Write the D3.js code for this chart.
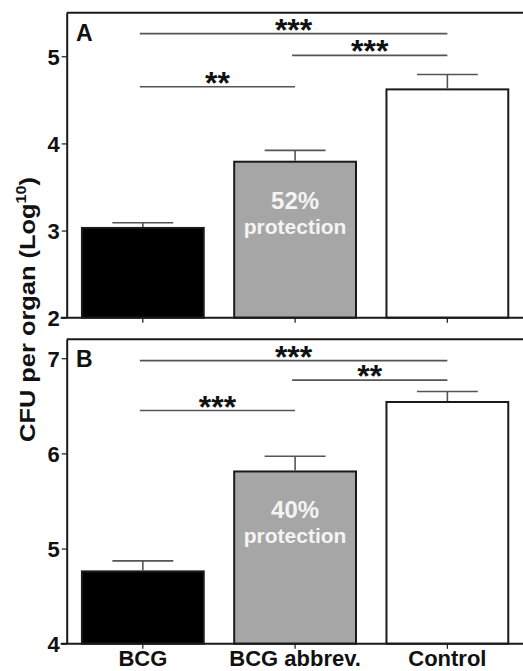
<!DOCTYPE html>
<html>
<head>
<meta charset="utf-8">
<script src="https://cdn.jsdelivr.net/npm/d3@7"></script>
<style>
  body { margin: 0; background: #fff; }
  svg { display: block; font-family: "Liberation Sans", Arial, sans-serif; font-weight: bold; }
</style>
</head>
<body>
<svg id="svg1" width="523" height="671"></svg>
<script>
// data
var groups = ['BCG', 'BCG abbrev.', 'Control'];
var fills = ['#000000', '#a6a6a6', '#ffffff'];

var meansA = [3.03, 3.79, 4.62];
var semA = [0.06, 0.13, 0.17];
var ticksA = [2, 3, 4, 5];
var protectA = '52%';

var meansB = [4.76, 5.81, 6.54];
var semB = [0.11, 0.16, 0.11];
var ticksB = [4, 5, 6, 7];
var protectB = '40%';

// significance brackets: [from group, to group, height in data units, stars]
var sigA = [[0, 2, 5.26, '***'], [1, 2, 5.01, '***'], [0, 1, 4.65, '**']];
var sigB = [[0, 2, 6.975, '***'], [1, 2, 6.77, '**'], [0, 1, 6.45, '***']];

var width = 523;
var svg = d3.select('svg');

var x = d3.scaleBand()
    .domain(groups)
    .range([66.7, 523.5])
    .paddingInner(0.2)
    .paddingOuter(0.1);

function panel(label, means, sem, ticks, sig, protect, domain, yr, showLabels) {
    var g = svg.append('g');
    var y = d3.scaleLinear().domain(domain).range(yr);
    var x0 = x.range()[0];

    // top frame line
    g.append('line')
        .attr('x1', x0).attr('x2', width)
        .attr('y1', yr[1]).attr('y2', yr[1])
        .attr('stroke', '#1a1a1a').attr('stroke-width', 2);

    // bars
    g.selectAll('rect.bar')
        .data(means)
        .enter()
        .append('rect')
        .attr('class', 'bar')
        .attr('x', function(d, i){ return x(groups[i]); })
        .attr('width', x.bandwidth())
        .attr('y', function(d){ return y(d); })
        .attr('height', function(d){ return y(domain[0]) - y(d); })
        .attr('fill', function(d, i){ return fills[i]; })
        .attr('stroke', '#1a1a1a')
        .attr('stroke-width', 2);

    // error bars (upper only)
    var eb = g.selectAll('g.err')
        .data(means)
        .enter()
        .append('g')
        .attr('stroke', '#555')
        .attr('stroke-width', 1.6);
    eb.append('line')
        .attr('x1', function(d, i){ return x(groups[i]) + x.bandwidth()/2; })
        .attr('x2', function(d, i){ return x(groups[i]) + x.bandwidth()/2; })
        .attr('y1', function(d){ return y(d) - 1; })
        .attr('y2', function(d, i){ return y(d + sem[i]); });
    eb.append('line')
        .attr('x1', function(d, i){ return x(groups[i]) + x.bandwidth()/4; })
        .attr('x2', function(d, i){ return x(groups[i]) + x.bandwidth()*3/4; })
        .attr('y1', function(d, i){ return y(d + sem[i]); })
        .attr('y2', function(d, i){ return y(d + sem[i]); });

    // protection text in the middle bar
    var cx = x(groups[1]) + x.bandwidth()/2;
    var t = g.append('text')
        .attr('text-anchor', 'middle')
        .attr('fill', '#f4f4f4');
    t.append('tspan')
        .attr('x', cx).attr('y', y(means[1]) + 47)
        .attr('font-size', 24)
        .text(protect);
    t.append('tspan')
        .attr('x', cx).attr('y', y(means[1]) + 72)
        .attr('font-size', 21)
        .text('protection');

    // significance lines
    sig.forEach(function(s){
        var xa = x(groups[s[0]]) + x.bandwidth()/2 - 3;
        var xb = x(groups[s[1]]) + x.bandwidth()/2;
        g.append('line')
            .attr('x1', xa).attr('x2', xb)
            .attr('y1', y(s[2])).attr('y2', y(s[2]))
            .attr('stroke', '#555').attr('stroke-width', 1.6);
        g.append('text')
            .attr('x', (xa + xb)/2)
            .attr('y', y(s[2]) + 7)
            .attr('text-anchor', 'middle')
            .attr('font-size', 32)
            .attr('fill', '#111')
            .text(s[3]);
    });

    // y axis
    var yAxis = g.append('g')
        .attr('transform', 'translate(' + x0 + ',0)')
        .call(d3.axisLeft(y).tickValues(ticks).tickFormat(d3.format('d')).tickSize(5).tickSizeOuter(0));
    yAxis.select('.domain').attr('stroke', '#1a1a1a').attr('stroke-width', 2);
    yAxis.selectAll('.tick line').attr('stroke', '#1a1a1a').attr('stroke-width', 1.2);
    yAxis.selectAll('.tick text')
        .attr('font-size', 22)
        .attr('font-family', '"Liberation Sans", Arial, sans-serif')
        .attr('font-weight', 'bold')
        .attr('fill', '#111')
        .attr('x', -7)
        .attr('dy', '0.36em');

    // x axis
    var xAxis = g.append('g')
        .attr('transform', 'translate(0,' + yr[0] + ')')
        .call(d3.axisBottom(x).tickSize(5).tickSizeOuter(0).tickFormat(showLabels ? null : ''));
    xAxis.select('.domain').attr('stroke', '#1a1a1a').attr('stroke-width', 2)
        .attr('d', 'M' + (x0 - 6) + ',0H' + width);
    xAxis.selectAll('.tick line').attr('stroke', '#1a1a1a').attr('stroke-width', 1.2);
    xAxis.selectAll('.tick text')
        .attr('font-size', 22)
        .attr('font-family', '"Liberation Sans", Arial, sans-serif')
        .attr('font-weight', 'bold')
        .attr('fill', '#111')
        .attr('y', 22.5)
        .attr('dy', 0);

    // panel letter
    g.append('text')
        .attr('x', 76)
        .attr('y', yr[1] + 28)
        .attr('font-size', 23)
        .attr('fill', '#111')
        .text(label);
}

panel('A', meansA, semA, ticksA, sigA, protectA, [2, 5.5], [317.7, 12.7], false);
panel('B', meansB, semB, ticksB, sigB, protectB, [4, 7.2], [643.7, 339.2], true);

// shared y axis title, stretched along its length as in the figure
var title = svg.append('text')
    .attr('text-anchor', 'middle')
    .attr('font-size', 22)
    .attr('fill', '#111');
title.append('tspan').text('CFU per organ (Log');
title.append('tspan').attr('font-size', 14).attr('dy', -9).text('10');
title.append('tspan').attr('dy', 9).text(')');
var len = title.node().getComputedTextLength();
title.attr('transform', 'translate(35,309.5) rotate(-90) scale(' + (265 / len) + ',1)');
</script>
</body>
</html>
